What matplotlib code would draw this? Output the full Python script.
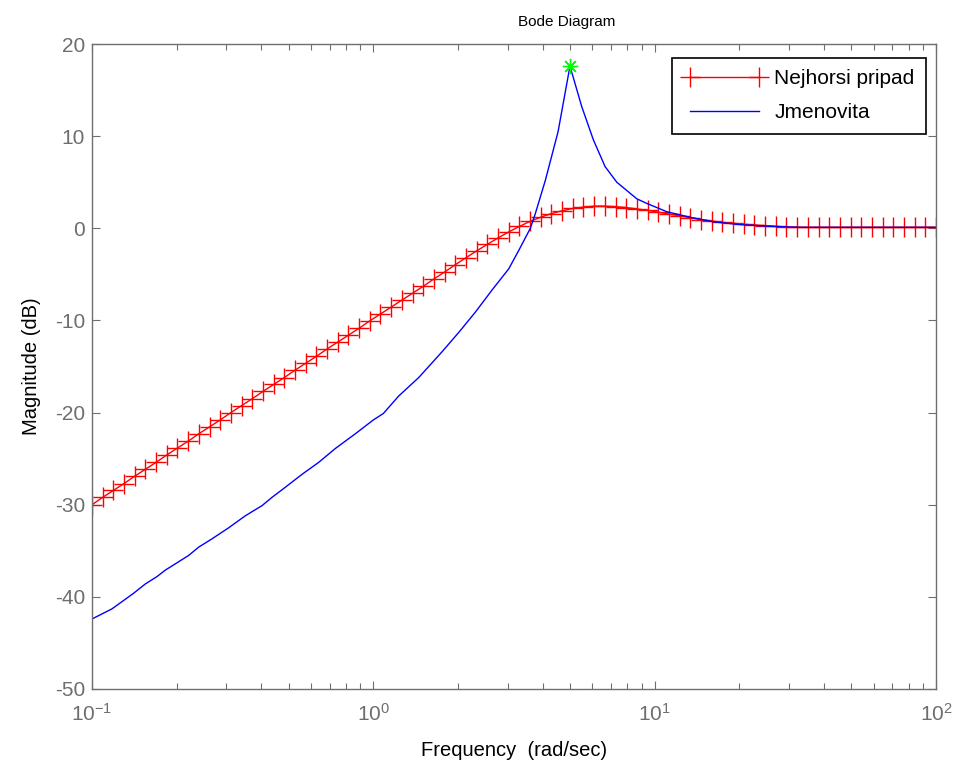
import matplotlib
matplotlib.use('Agg')
import matplotlib.pyplot as plt

plt.rcParams['font.family'] = ['Liberation Sans', 'DejaVu Sans']
plt.rcParams['axes.unicode_minus'] = False

# Frekvence (rad/s) - nejhorsi pripad, 80 bodu
w_worst = [0.1000, 0.1091, 0.1191, 0.1300, 0.1419, 0.1548, 0.1690, 0.1844, 0.2013, 0.2197,
           0.2398, 0.2617, 0.2856, 0.3117, 0.3401, 0.3712, 0.4051, 0.4422, 0.4826, 0.5267,
           0.5748, 0.6273, 0.6847, 0.7472, 0.8155, 0.8901, 0.9713, 1.0601, 1.1570, 1.2627,
           1.3781, 1.5040, 1.6415, 1.7915, 1.9552, 2.1339, 2.3289, 2.5417, 2.7740, 3.0275,
           3.3041, 3.6060, 3.9356, 4.2952, 4.6877, 5.1161, 5.5836, 6.0938, 6.6507, 7.2584,
           7.9217, 8.6456, 9.4356, 10.298, 11.239, 12.266, 13.387, 14.610, 15.945, 17.402,
           18.993, 20.728, 22.622, 24.689, 26.945, 29.408, 32.095, 35.028, 38.229, 41.722,
           45.535, 49.696, 54.237, 59.193, 64.602, 70.505, 76.948, 83.979, 91.653, 100.0]
mag_worst = [-30.0, -29.2, -28.45, -27.7, -26.9, -26.15, -25.4, -24.6, -23.85, -23.1,
             -22.3, -21.55, -20.8, -20.0, -19.25, -18.5, -17.7, -16.95, -16.2, -15.4,
             -14.65, -13.9, -13.1, -12.35, -11.6, -10.85, -10.05, -9.3, -8.55, -7.8,
             -7.05, -6.3, -5.5, -4.75, -3.95, -3.2, -2.45, -1.75, -1.05, -0.4,
             0.2, 0.75, 1.2, 1.6, 1.9, 2.15, 2.3, 2.4, 2.4, 2.35,
             2.25, 2.1, 1.95, 1.75, 1.55, 1.35, 1.15, 0.95, 0.8, 0.65,
             0.55, 0.45, 0.35, 0.3, 0.22, 0.15, 0.12, 0.1, 0.1, 0.1,
             0.1, 0.1, 0.1, 0.1, 0.1, 0.1, 0.1, 0.1, 0.1, 0.1]

# Jmenovita prenosova funkce
w_nom = [0.1, 0.1178, 0.1407, 0.1547, 0.1702, 0.1822, 0.2207, 0.2395, 0.2671, 0.3062,
         0.3508, 0.4021, 0.4364, 0.4868, 0.5579, 0.6397, 0.7327, 0.8630, 1.0, 1.0855,
         1.231, 1.450, 1.755, 2.012, 2.305, 2.642, 3.029, 3.288, 3.615, 3.766,
         4.087, 4.537, 5.0, 5.506, 6.055, 6.663, 7.334, 8.639, 9.374, 11.04,
         13.36, 16.17, 20.12, 26.37, 32.88, 100.0]
mag_nom = [-42.4, -41.3, -39.6, -38.6, -37.8, -37.1, -35.5, -34.6, -33.7, -32.5,
           -31.2, -30.1, -29.2, -28.1, -26.7, -25.4, -23.9, -22.3, -20.8, -20.1,
           -18.2, -16.2, -13.4, -11.3, -9.1, -6.7, -4.4, -2.4, 0.0, 1.6,
           5.2, 10.5, 17.6, 13.2, 9.6, 6.7, 5.0, 3.2, 2.7, 1.8,
           1.2, 0.7, 0.4, 0.2, 0.1, 0.1]

# Maximum (rezonancni spicka)
w_peak = [5.0]
mag_peak = [17.6]

fig = plt.figure(figsize=(9.54, 7.67), dpi=100)
ax = fig.add_axes([92/954, 1 - 689/767, (936 - 92)/954, (689 - 44)/767])

ax.semilogx(w_worst, mag_worst, color='red', marker='+', markersize=14,
            markeredgewidth=1.0, linewidth=1.0, label='Nejhorsi pripad')
ax.semilogx(w_nom, mag_nom, color='blue', linewidth=1.0, label='Jmenovita')
ax.semilogx(w_peak, mag_peak, color='#00ff00', marker=(8, 2, 0), markersize=11,
            markeredgewidth=1.0, linestyle='none')

ax.set_xlim(0.1, 100)
ax.set_ylim(-50, 20)
ax.set_yticks([-50, -40, -30, -20, -10, 0, 10, 20])

# Vzhled os ve stylu MATLABu
grey = '#6e6e6e'
for s in ax.spines.values():
    s.set_color(grey)
    s.set_linewidth(1.0)
ax.tick_params(which='both', direction='in', top=True, right=True,
               colors=grey, labelsize=15)
ax.tick_params(which='major', length=6, width=0.8)
ax.tick_params(which='minor', length=4, width=0.8)
ax.tick_params(axis='x', which='major', pad=10)
ax.tick_params(axis='y', which='major', pad=5)

ax.set_title('Bode Diagram', fontsize=11, pad=13, x=(567 - 92)/844)
ax.set_xlabel('Frequency  (rad/sec)', fontsize=14.5, labelpad=12)
ax.set_ylabel('Magnitude (dB)', fontsize=14.5, labelpad=10)

leg = ax.legend(loc='upper right', bbox_to_anchor=(926/954, 1 - 58/767),
                bbox_transform=fig.transFigure, borderaxespad=0, fontsize=15,
                numpoints=2, handlelength=3.9, handletextpad=0.45,
                labelspacing=0.7, borderpad=0.55, fancybox=False,
                framealpha=1, edgecolor='black')
leg.get_frame().set_linewidth(1.2)

fig.savefig('out.png', dpi=100)
